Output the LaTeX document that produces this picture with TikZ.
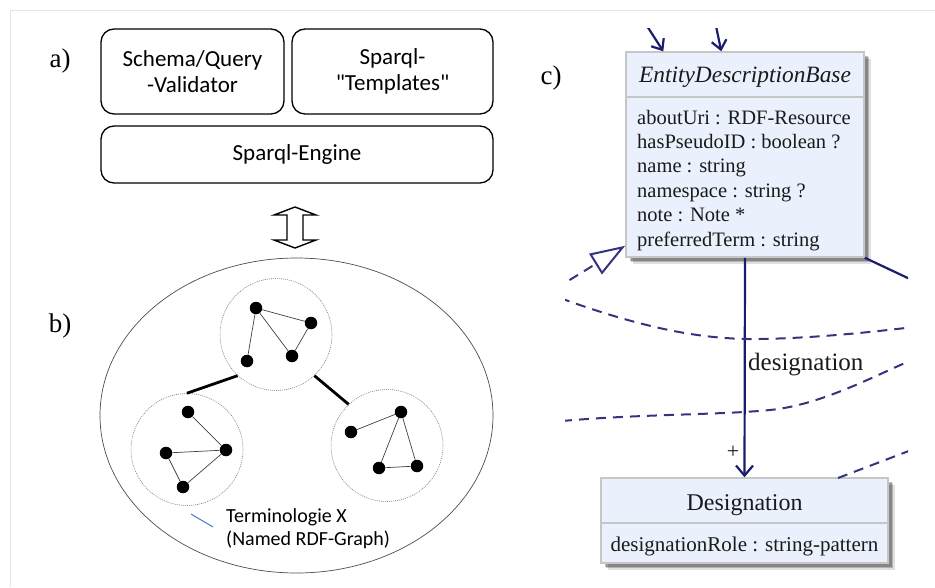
\documentclass[tikz,border=0pt]{standalone}
\usepackage{fontspec}
\setmainfont{Liberation Serif}
\newfontfamily\calibri{Carlito}
\usetikzlibrary{arrows.meta,shapes.geometric,shadows}

\definecolor{framegray}{HTML}{E4E4E4}
\definecolor{umlfill}{HTML}{EAF1FD}
\definecolor{umledge}{HTML}{C6C6C6}
\definecolor{umlline}{HTML}{1C1C6E}
\definecolor{umldash}{HTML}{34347E}
\definecolor{umltext}{HTML}{1A1A1A}
\definecolor{tickblue}{HTML}{4A78C8}

\begin{document}
\begin{tikzpicture}[x=1pt,y=-1pt,
  panel/.style={font=\fontsize{27}{30}\selectfont, inner sep=0pt},
  stackbox/.style={draw, line width=1.3pt, rounded corners=13pt, align=center,
    inner sep=0pt, font=\calibri\fontsize{23}{25.5}\selectfont},
  cluster/.style={draw=gray, circle, dash pattern=on 1pt off 1pt,
    line width=0.6pt, minimum size=112pt, inner sep=0pt},
  vertex/.style={circle, fill=black, minimum size=12.5pt, inner sep=0pt},
  arc/.style={line width=0.7pt, draw=black!75},
  bridge/.style={line width=2.8pt},
  caption/.style={font=\calibri\fontsize{20}{24}\selectfont, inner sep=0pt, anchor=base west},
  umlbox/.style={draw=umledge, fill=umlfill, line width=1.5pt, inner sep=0pt,
    drop shadow={shadow xshift=6.5pt, shadow yshift=-6.5pt, opacity=0.12, fill=black},
    drop shadow={shadow xshift=5pt, shadow yshift=-5pt, opacity=0.2, fill=black},
    drop shadow={shadow xshift=3.5pt, shadow yshift=-3.5pt, opacity=0.25, fill=black}},
  umltitle/.style={text=umltext, inner sep=0pt, anchor=base},
  umlattr/.style={text=umltext, inner sep=0pt, anchor=base west, font=\fontsize{20.5}{24}\selectfont},
  assoc/.style={draw=umlline, line width=2.2pt},
  dashedrel/.style={draw=umldash, line width=2pt, dash pattern=on 10pt off 7pt},
  barb/.style={-{Straight Barb[length=9pt,width=15pt]}}
]
\useasboundingbox (0,0) rectangle (935,587);

% page frame
\draw[framegray, line width=1pt] (10,587) -- (10,10) -- (935,10);

% ---------- a) query stack ----------
\node[panel] (la) at (60,61) {a)};
\node[stackbox, minimum width=183pt, minimum height=85pt] (valid) at (192.5,71.5) {Schema/Query\\-Validator};
\node[stackbox, minimum width=201pt, minimum height=85pt] (templ) at (392.5,71.5) {Sparql-\\"Templates"};
\node[stackbox, minimum width=392pt, minimum height=57pt] (engine) at (297,154.5) {Sparql-Engine};

% hollow double arrow between engine and graph store
\draw[line width=1.4pt, line join=miter, fill=white]
  (295,207) -- (316,215) -- (303,215) -- (303,240) -- (316,240) -- (295,248)
  -- (274,240) -- (287,240) -- (287,215) -- (274,215) -- cycle;

% ---------- b) named graphs ----------
\node[panel] (lb) at (60,326) {b)};
\node[draw=black!70, ellipse, line width=0.7pt, minimum width=393pt, minimum height=315pt, inner sep=0pt] (store) at (296.5,415.5) {};

\node[cluster] (gT) at (276,334.5) {};
\node[cluster] (gL) at (187,449.5) {};
\node[cluster] (gR) at (387,445.5) {};

% top graph
\node[vertex] (t1) at (256,308) {};
\node[vertex] (t2) at (311,323) {};
\node[vertex] (t3) at (292,356) {};
\node[vertex] (t4) at (247,361) {};
\draw[arc] (t1) -- (t2) (t1) -- (t3) (t1) -- (t4) (t2) -- (t3);

% left graph
\node[vertex] (l1) at (188,412) {};
\node[vertex] (l2) at (226,450) {};
\node[vertex] (l3) at (166,453) {};
\node[vertex] (l4) at (183,487) {};
\draw[arc] (l1) -- (l2) (l3) -- (l2) (l3) -- (l4) (l4) -- (l2);

% right graph
\node[vertex] (r1) at (401,412) {};
\node[vertex] (r2) at (351,432) {};
\node[vertex] (r3) at (379,468) {};
\node[vertex] (r4) at (417,466) {};
\draw[arc] (r2) -- (r1) (r1) -- (r3) (r1) -- (r4) (r3) -- (r4);

% links between graphs
\draw[bridge] (gT.227) -- (gL.90);
\draw[bridge] (gT.313) -- (gR.133);

% caption with its leader tick
\coordinate (tickA) at (191,514);
\coordinate (tickB) at (213,527);
\draw[tickblue, line width=1pt] (tickA) -- (tickB);
\node[caption] (cap1) at (226,522.7) {Terminologie X};
\node[caption] (cap2) at (226,545) {(Named RDF-Graph)};

% ---------- c) UML excerpt ----------
\node[panel] (lc) at (551,78) {c)};

\node[umlbox, minimum width=238pt, minimum height=205pt] (edb) at (745,154.5) {};
\coordinate (edbsep) at (745,97);
\draw[umledge, line width=1.5pt] (edb.west |- edbsep) -- (edb.east |- edbsep);
\node[umltitle, font=\itshape\fontsize{23.4}{28}\selectfont] (edbname) at (745,82.7) {EntityDescriptionBase};
\node[umlattr] (a1) at (637,124) {aboutUri : RDF-Resource};
\node[umlattr] (a2) at (637,148.4) {hasPseudoID : boolean ?};
\node[umlattr] (a3) at (637,172.8) {name : string};
\node[umlattr] (a4) at (637,197.2) {namespace : string ?};
\node[umlattr] (a5) at (637,221.6) {note : Note *};
\node[umlattr] (a6) at (637,246) {preferredTerm : string};

\node[umlbox, minimum width=287pt, minimum height=85pt] (des) at (744.5,520.5) {};
\coordinate (dessep) at (744.5,523);
\draw[umledge, line width=1.5pt] (des.west |- dessep) -- (des.east |- dessep);
\node[umltitle, font=\fontsize{24}{28}\selectfont] (desname) at (744.5,510) {Designation};
\node[umltitle, font=\fontsize{21}{24}\selectfont] (desattr) at (744.5,551.7) {designationRole : string-pattern};

\begin{scope}
  \clip (565,28) rectangle (908,587);
  % incoming references from above
  \coordinate (src1) at (647,26);
  \coordinate (src2) at (716,26);
  \draw[assoc, barb] (src1) -- ([xshift=38pt]edb.north west);
  \draw[assoc, barb] (src2) -- ([xshift=96pt]edb.north west);
  % generalisation from the left
  \coordinate (genfoot) at (555,289);
  \draw[dashedrel, -{Triangle[open, length=35pt, width=24pt, line width=2pt]}] (genfoot) -- ([yshift=12pt]edb.south west);
  % outgoing association on the right
  \coordinate (rightend) at (912,280);
  \draw[assoc] (edb.south east) -- (rightend);
  % association to Designation
  \draw[assoc, -{Straight Barb[length=10pt,width=17pt]}] (edb.south) -- (des.north);
  % dashed relations crossing the area
  \coordinate (dA1) at (560,298);
  \coordinate (dA2) at (760,339);
  \coordinate (dA3) at (914,327);
  \draw[dashedrel] (dA1) .. controls (640,327) and (700,340) .. (dA2) .. controls (820,338) and (880,331) .. (dA3);
  \coordinate (dB1) at (562,421);
  \coordinate (dB2) at (770,410);
  \coordinate (dB3) at (914,359);
  \draw[dashedrel] (dB1) .. controls (640,414) and (720,415) .. (dB2) .. controls (820,405) and (870,378) .. (dB3);
  \coordinate (dC1) at (838,478);
  \coordinate (dC2) at (914,449);
  \draw[dashedrel] (dC1) -- (dC2);
\end{scope}

\node[text=umltext, font=\fontsize{25}{28}\selectfont, inner sep=0pt, anchor=base west] (assocname) at (748,370) {designation};
\node[text=umltext, font=\fontsize{22}{24}\selectfont, inner sep=0pt] (mult) at (733,452) {+};

\end{tikzpicture}
\end{document}
